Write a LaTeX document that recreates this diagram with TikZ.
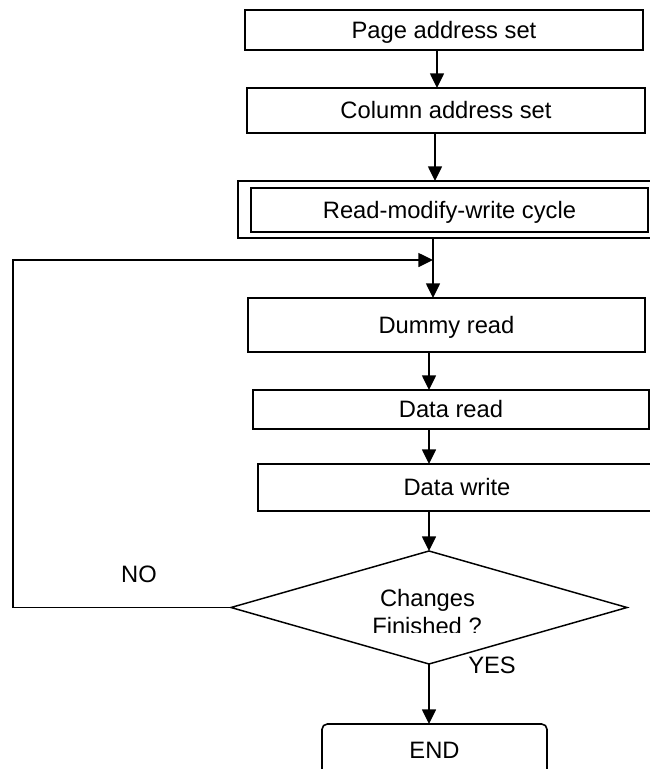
\documentclass[tikz,border=0pt]{standalone}
\usepackage{fontspec}
\setmainfont{Liberation Sans}
\usetikzlibrary{arrows.meta,shapes.geometric}
\tikzset{
  box/.style={draw, line width=1.2pt, inner sep=0pt, outer sep=0pt,
    text height=12.5pt, text depth=0pt, align=center},
  arr/.style={line width=1.1pt, -{Triangle[length=11pt,width=10.5pt]}},
  lbl/.style={inner sep=0pt, anchor=base}
}
\begin{document}
\begin{tikzpicture}[x=0.75pt, y=-0.75pt, font=\fontsize{17.8}{21}\selectfont]
\useasboundingbox (0,0) rectangle (650,769);
\clip (0,0) rectangle (650,769);

\node[box, minimum width=298.5pt, minimum height=30pt] (p1) at (444,30) {Page address set};
\node[box, minimum width=298.5pt, minimum height=33.75pt] (p2) at (446,110.5) {Column address set};
\node[box, line width=1.6pt, minimum width=312.75pt, minimum height=42.75pt] (rmwo) at (446.5,209.5) {};
\node[box, minimum width=297.75pt, minimum height=33pt] (rmwi) at (449.5,210) {Read-modify-write cycle};
\node[box, minimum width=297.75pt, minimum height=40.5pt] (dummy) at (446.5,325) {Dummy read};
\node[box, minimum width=297pt, minimum height=29.25pt] (dread) at (451,409.5) {Data read};
\node[box, minimum width=298.5pt, minimum height=35.25pt] (dwrite) at (457,487.5) {Data write};
\node[draw, diamond, line width=1.1pt, inner sep=0pt, outer sep=0pt,
      minimum width=297pt, minimum height=84.75pt] (dec) at (429,607.5) {};
\node[box, rounded corners=4pt, minimum width=168.75pt, minimum height=39pt] (endn) at (434.5,750) {END};

\node[lbl] (t1) at (427.5,606) {Changes};
\begin{scope}
  \clip (228,560) rectangle (628,632);
  \node[lbl] (t2) at (427,634) {Finished ?};
\end{scope}
\node[lbl] (nolab) at (139,582) {NO};
\node[lbl] (yeslab) at (492,673) {YES};

\coordinate (ax1) at (437,0);
\coordinate (ax2) at (435,0);
\coordinate (ax3) at (433,0);
\coordinate (ax4) at (429,0);
\coordinate (lx) at (13,0);
\coordinate (join) at (433,260);

\draw[arr] (p1.south -| ax1) -- (p2.north -| ax1);
\draw[arr] (p2.south -| ax2) -- (rmwo.north -| ax2);
\draw[arr] (rmwo.south -| ax3) -- (dummy.north -| ax3);
\draw[arr] (dec.west) -- (dec.west -| lx) |- (join);
\draw[arr] (dummy.south -| ax4) -- (dread.north -| ax4);
\draw[arr] (dread.south -| ax4) -- (dwrite.north -| ax4);
\draw[arr] (dwrite.south -| dec.north) -- (dec.north);
\draw[arr] (dec.south) -- (dec.south |- endn.north);
\end{tikzpicture}
\end{document}
